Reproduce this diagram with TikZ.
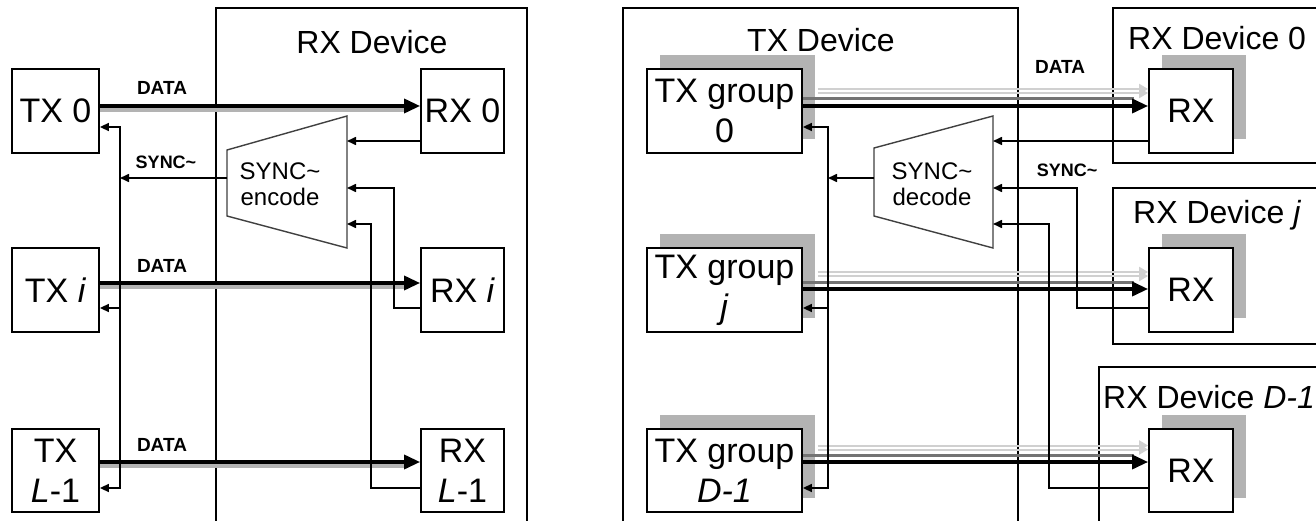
\documentclass[tikz,border=0pt]{standalone}
\usepackage{fontspec}
\setmainfont{Liberation Sans}
\usetikzlibrary{arrows.meta,shadows}
\definecolor{shade}{HTML}{B3B3B3}
\definecolor{pale}{HTML}{D0D0D0}
\tikzset{
  blk/.style={draw,line width=1.8pt,fill=white,align=center,inner sep=0pt,minimum height=84pt,font=\fontsize{34}{40}\selectfont},
  grp/.style={blk,general shadow={fill=shade,shadow xshift=13pt,shadow yshift=14pt}},
  frame/.style={draw,line width=1.8pt},
  head/.style={font=\fontsize{32}{38}\selectfont,inner sep=0pt},
  trap/.style={draw=black!75,line width=1.4pt},
  trtext/.style={align=center,font=\fontsize{24}{26}\selectfont,inner sep=0pt},
  lbl/.style={font=\fontsize{19}{22}\selectfont\bfseries,inner sep=0pt},
  slbl/.style={font=\fontsize{18}{22}\selectfont\bfseries,inner sep=0pt},
  wire/.style={line width=1.6pt},
  sig/.style={line width=1.6pt,-{Triangle[length=9pt,width=8pt]}},
  data/.style={line width=3.4pt,-{Triangle[length=16pt,width=14pt]}},
  datashade/.style={line width=4pt,draw=shade,shorten >=14pt},
  buslight/.style={line width=2pt,draw=pale,-{Triangle[length=9pt,width=10pt]}},
  busdark/.style={line width=3pt,draw=black!55,shorten >=14pt}
}
\begin{document}
\begin{tikzpicture}[x=1pt,y=-1pt]
\clip (0,0) rectangle (1316,521);
\fill[white] (0,0) rectangle (1316,521);

% left: one RX device
\draw[frame] (216,8) rectangle (527,540);
\node[head] (rxdevh) at (372,42) {RX Device};
\node[blk,minimum width=87pt] (tx0) at (55.5,111) {TX 0};
\node[blk,minimum width=87pt] (txi) at (55.5,290) {TX \textit{i}};
\node[blk,minimum width=87pt,minimum height=83pt] (txl) at (55.5,470.5) {TX\\\textit{L}-1};
\node[blk,minimum width=83pt] (rx0) at (462.5,111) {RX 0};
\node[blk,minimum width=83pt] (rxi) at (462.5,290) {RX \textit{i}};
\node[blk,minimum width=83pt,minimum height=83pt] (rxl) at (462.5,470.5) {RX\\\textit{L}-1};

\draw[trap] (227,150) -- (347,116) -- (347,248) -- (227,216) -- cycle;
\node[trtext] (enc) at (280,184) {SYNC\textasciitilde\\encode};
\coordinate (encout) at (227,178);
\coordinate (encin0) at (347,141);
\coordinate (encin1) at (347,188);
\coordinate (encin2) at (347,224);
\coordinate (busl) at (120,178);

\draw[datashade] ([yshift=1pt]tx0.east) -- ([yshift=1pt]rx0.west);
\draw[data] ([yshift=5pt]tx0.east) -- ([yshift=5pt]rx0.west);
\draw[datashade] ([yshift=3pt]txi.east) -- ([yshift=3pt]rxi.west);
\draw[data] ([yshift=7pt]txi.east) -- ([yshift=7pt]rxi.west);
\draw[datashade] ([yshift=4.5pt]txl.east) -- ([yshift=4.5pt]rxl.west);
\draw[data] ([yshift=8.5pt]txl.east) -- ([yshift=8.5pt]rxl.west);
\node[lbl] (dl0) at (162,88) {DATA};
\node[lbl] (dli) at (162,266) {DATA};
\node[lbl] (dll) at (162,445) {DATA};

\draw[sig] (encin0 -| rx0.west) -- (encin0);
\draw[sig] ([yshift=-18pt]rxi.west) -- ++(-26,0) |- (encin1);
\draw[sig] ([yshift=-17.5pt]rxl.west) -- ++(-49,0) |- (encin2);
\draw[sig] (encout) -- (busl);
\node[slbl] (sl) at (166,162) {SYNC\textasciitilde};
\draw[sig] (busl) |- ([yshift=-16pt]tx0.east);
\draw[sig] (busl) |- ([yshift=-18pt]txi.east);
\draw[sig] (busl) |- ([yshift=-17.5pt]txl.east);

% right: one TX device, D RX devices
\draw[frame] (623,8) rectangle (1018,540);
\draw[frame] (1113,8) rectangle (1340,163);
\draw[frame] (1113,188) rectangle (1340,344);
\draw[frame] (1099,367) rectangle (1340,540);

\node[grp,minimum width=155pt] (g0) at (724.5,111) {TX group\\0};
\node[grp,minimum width=155pt] (gj) at (724.5,290) {TX group\\\textit{j}};
\node[grp,minimum width=155pt,minimum height=83pt] (gl) at (724.5,470.5) {TX group\\\textit{D-1}};
\node[grp,minimum width=84pt] (r0) at (1191,111) {RX};
\node[grp,minimum width=84pt] (rj) at (1191,290) {RX};
\node[grp,minimum width=84pt,minimum height=83pt] (rl) at (1191,470.5) {RX};

\node[head] (txdevh) at (821,40) {TX Device};
\node[head,anchor=west] (rxd0h) at (1128,38) {RX Device 0};
\node[head,anchor=west] (rxdjh) at (1133,215) {RX Device \textit{j}};
\node[head,anchor=west] (rxdlh) at (1103,397) {RX Device \textit{D-1}};

\draw[trap] (874,148) -- (993,116) -- (993,248) -- (874,216) -- cycle;
\node[trtext] (dec) at (932,184) {SYNC\textasciitilde\\decode};
\coordinate (decout) at (874,178);
\coordinate (decin0) at (993,141);
\coordinate (decin1) at (993,188);
\coordinate (decin2) at (993,224);
\coordinate (busr) at (828,178);

\draw[buslight] ([xshift=15pt,yshift=22pt]g0.east) -- ([yshift=22pt]r0.west);
\draw[buslight] ([xshift=15pt,yshift=18pt]g0.east) -- ([yshift=18pt]r0.west);
\draw[busdark] ([yshift=12pt]g0.east) -- ([yshift=12pt]r0.west);
\draw[data] ([yshift=5pt]g0.east) -- ([yshift=5pt]r0.west);
\draw[buslight] ([xshift=15pt,yshift=18pt]gj.east) -- ([yshift=18pt]rj.west);
\draw[buslight] ([xshift=15pt,yshift=14pt]gj.east) -- ([yshift=14pt]rj.west);
\draw[busdark] ([yshift=8pt]gj.east) -- ([yshift=8pt]rj.west);
\draw[data] ([yshift=1pt]gj.east) -- ([yshift=1pt]rj.west);
\draw[buslight] ([xshift=15pt,yshift=25pt]gl.east) -- ([yshift=25pt]rl.west);
\draw[buslight] ([xshift=15pt,yshift=21pt]gl.east) -- ([yshift=21pt]rl.west);
\draw[busdark] ([yshift=15pt]gl.east) -- ([yshift=15pt]rl.west);
\draw[data] ([yshift=8.5pt]gl.east) -- ([yshift=8.5pt]rl.west);
\node[lbl] (dr) at (1060,67) {DATA};

\draw[sig] (decin0 -| r0.west) -- (decin0);
\draw[sig] ([yshift=-18pt]rj.west) -- ++(-71,0) |- (decin1);
\draw[sig] ([yshift=-17.5pt]rl.west) -- ++(-99,0) |- (decin2);
\draw[sig] (decout) -- (busr);
\node[slbl] (sr) at (1067,170) {SYNC\textasciitilde};
\draw[sig] (busr) |- ([yshift=-16pt]g0.east);
\draw[sig] (busr) |- ([yshift=-18pt]gj.east);
\draw[sig] (busr) |- ([yshift=-17.5pt]gl.east);
\end{tikzpicture}
\end{document}
